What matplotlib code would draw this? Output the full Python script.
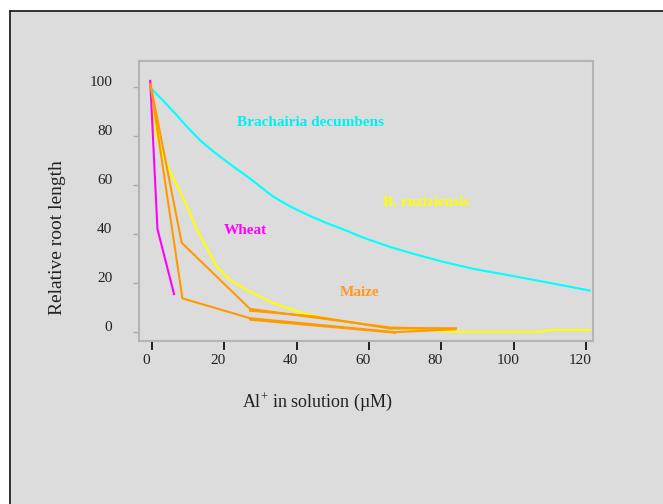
import matplotlib
matplotlib.use("Agg")
import matplotlib.pyplot as plt
from matplotlib.patches import Rectangle
from matplotlib.lines import Line2D
from matplotlib.transforms import ScaledTranslation

plt.rcParams['font.family'] = ['Liberation Serif', 'DejaVu Serif']
plt.rcParams['mathtext.fontset'] = 'custom'
plt.rcParams['mathtext.rm'] = 'Liberation Serif'

BG = "#dcdcdc"
FRAME = "#b4b4b4"

# --- data ---
decumbens_x = [0, 3, 6.4, 9.5, 13.3, 17, 22, 27, 33.5, 38.5, 43.7, 48, 52.5, 58, 65.8, 72, 80, 89, 98, 110, 121]
decumbens_y = [99, 94.5, 89.2, 84, 78.2, 73.6, 68, 62.7, 55.2, 51, 47.3, 44.6, 42.1, 38.7, 34.7, 32, 28.8, 25.7, 23.3, 20, 16.9]

ruziziensis_x = [-0.5, 1.1, 4.5, 7.3, 9.1, 12.5, 17.9, 21.6, 26.2, 33.5, 41.8, 52, 65.8, 82.4, 107, 110, 121]
ruziziensis_y = [102, 80.4, 66.8, 58.7, 53.2, 41.5, 26.7, 21.2, 17.1, 11.7, 7.6, 4.5, 1.8, 0.1, 0, 0.8, 0.8]

wheat_x = [-0.5, 1.5, 6.1]
wheat_y = [102.5, 42, 15.4]

maize_a_x = [-0.4, 8.2, 27.1, 65.8, 83.8]
maize_a_y = [101, 36.4, 9.4, 1.8, 1.2]
maize_b_x = [-0.4, 8.4, 27.1, 67.2, 83.8]
maize_b_y = [101, 13.7, 5.6, -0.1, 1.1]
maize_c_x = [27.1, 45, 65.8, 84]
maize_c_y = [8.7, 6.3, 1.4, 1.5]
maize_d_x = [27.1, 67.2]
maize_d_y = [5.0, -0.3]

x_ticks = [0, 20, 40, 60, 80, 100, 120]
y_ticks = [0, 20, 40, 60, 80, 100]

labels = {
    "Brachairia decumbens": (43.7, 85.4, "#00f0f0"),
    "B. ruziziensis": (75.8, 52.8, "#ffff00"),
    "Wheat": (25.7, 41.3, "#ff00ff"),
    "Maize": (57.5, 16.0, "#ff9922"),
}

fig = plt.figure(figsize=(6.63, 5.04), dpi=100)
fig.patch.set_facecolor("white")

# grey slide background with the black edge on top and left
top = (504 - 11) / 504
left = 10 / 663
fig.add_artist(Rectangle((left, 0), 1 - left, top, transform=fig.transFigure,
                         facecolor=BG, edgecolor="none", zorder=-2))
fig.add_artist(Line2D([left, 1], [top, top], transform=fig.transFigure,
                      color="#222222", lw=1.3, zorder=-1))
fig.add_artist(Line2D([left, left], [0, top], transform=fig.transFigure,
                      color="#222222", lw=1.3, zorder=-1))

ax = fig.add_axes([139 / 663, 163 / 504, 454 / 663, 280 / 504])
ax.set_facecolor(BG)

ax.plot(decumbens_x, decumbens_y, color="#00ffff", lw=1.5)
ax.plot(ruziziensis_x, ruziziensis_y, color="#ffff00", lw=1.5)
ax.plot(wheat_x, wheat_y, color="#ff00ff", lw=1.5)
for mx, my in [(maize_a_x, maize_a_y), (maize_b_x, maize_b_y),
               (maize_c_x, maize_c_y), (maize_d_x, maize_d_y)]:
    ax.plot(mx, my, color="#ff9900", lw=1.5)

for name, (tx, ty, col) in labels.items():
    ax.text(tx, ty, name, color=col, fontsize=11, fontweight="bold",
            ha="center", va="center")

ax.set_xlim(-3.6, 121.9)
ax.set_ylim(-3.7, 110.6)

for s in ax.spines.values():
    s.set_color(FRAME)
    s.set_linewidth(1.5)

ax.set_xticks(x_ticks)
ax.set_yticks(y_ticks)
ax.tick_params(axis="y", direction="out", length=4.3, width=1, color="#a8a8a8",
               pad=15, labelsize=11, labelcolor="#222222")
ax.tick_params(axis="x", direction="out", length=6.5, width=1.3, color="#111111",
               pad=3, labelsize=11, labelcolor="#222222")

# the printed labels sit a little off their ticks
for t in ax.yaxis.get_major_ticks():
    t.label1.set_transform(t.label1.get_transform()
                           + ScaledTranslation(0, 0.06, fig.dpi_scale_trans))
for t in ax.xaxis.get_major_ticks():
    t.label1.set_transform(t.label1.get_transform()
                           + ScaledTranslation(-0.06, 0, fig.dpi_scale_trans))

fig.text(317 / 663, 1 - 402 / 504, r"Al$^{+}$ in solution (µM)", fontsize=13,
         ha="center", va="center", color="#222222")
fig.text(58 / 663, 1 - 238 / 504, "Relative root length", fontsize=14,
         rotation=90, ha="center", va="center", color="#222222")

fig.savefig("out.png", dpi=100)
